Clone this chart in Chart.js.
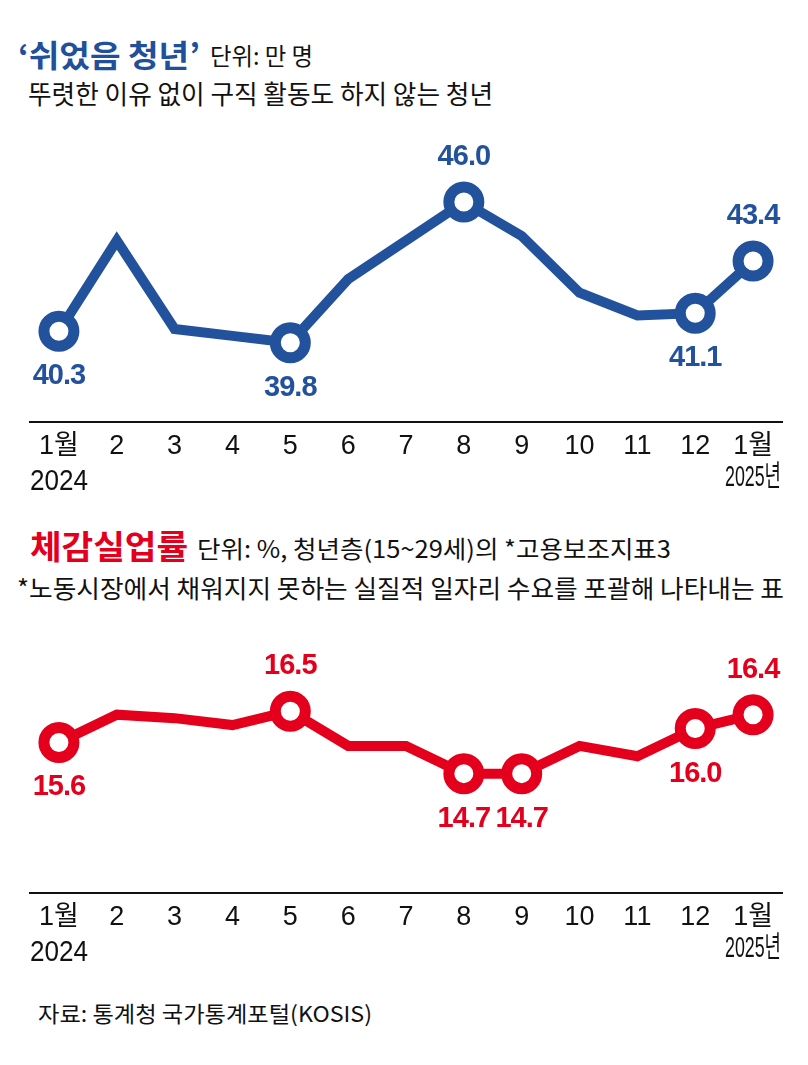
<!DOCTYPE html>
<html><head><meta charset="utf-8">
<script src="https://cdn.jsdelivr.net/npm/chart.js@4"></script>
<style>
html,body{margin:0;padding:0;background:#fff;}
body{width:808px;height:1065px;position:relative;overflow:hidden;font-family:"Noto Sans CJK KR","Noto Sans",sans-serif;color:#111;}
.t{position:absolute;white-space:nowrap;line-height:1;transform-origin:0 50%;}
canvas{position:absolute;left:0;}
</style></head><body>
<div class="t" data-w="182" style="left:18px;top:38px;font-size:31px;font-weight:700;color:#1f5099;">‘쉬었음 청년’</div>
<div class="t" data-w="103" style="left:210px;top:43px;font-size:24px;">단위: 만 명</div>
<div class="t" data-w="465" style="left:28px;top:80px;font-size:26px;">뚜렷한 이유 없이 구직 활동도 하지 않는 청년</div>
<div class="t" data-w="158" style="left:30px;top:529px;font-size:33px;font-weight:700;color:#e4001c;">체감실업률</div>
<div class="t" data-w="474" style="left:197px;top:536px;font-size:24px;">단위: %, 청년층(15~29세)의 *고용보조지표3</div>
<div class="t" data-w="767" style="left:17px;top:575px;font-size:25px;">*노동시장에서 채워지지 못하는 실질적 일자리 수요를 포괄해 나타내는 표</div>
<div class="t" data-w="334" style="left:38px;top:1001px;font-size:22px;">자료: 통계청 국가통계포털(KOSIS)</div>
<canvas id="c1" width="808" height="390" style="top:120px;width:808px;height:390px;"></canvas>
<canvas id="c2" width="808" height="360" style="top:620px;width:808px;height:360px;"></canvas>
<script>
// ---- data ----
const months = ['1월','2','3','4','5','6','7','8','9','10','11','12','1월'];
const yearStart = '2024';
const yearEnd = '2025년';
const restingYouth = [40.3, 44.3, 40.4, 40.1, 39.8, 42.6, 44.3, 46.0, 44.5, 42.0, 41.0, 41.1, 43.4];
const restingLabeled = [0, 4, 7, 11, 12];
const restingLabelSide = ['below', 'below', 'above', 'below', 'above'];
const perceivedUnemp = [15.6, 16.4, 16.3, 16.1, 16.5, 15.5, 15.5, 14.7, 14.7, 15.5, 15.2, 16.0, 16.4];
const perceivedLabeled = [0, 4, 7, 8, 11, 12];
const perceivedLabelSide = ['below', 'above', 'below', 'below', 'below', 'above'];

// fit header texts to their widths
document.querySelectorAll('.t').forEach(el => {
  const w = el.getBoundingClientRect().width;
  const target = parseFloat(el.dataset.w);
  if (w > 0) el.style.transform = 'scaleX(' + (target / w) + ')';
});

const BLUE = '#22529b';
const RED = '#e4001c';
const TICK_FONT = '"Liberation Sans", Arial, "Noto Sans CJK KR", sans-serif';

const valueLabels = {
  id: 'valueLabels',
  afterDatasetsDraw(chart, args, opts) {
    const ctx = chart.ctx;
    const meta = chart.getDatasetMeta(0);
    const ds = chart.data.datasets[0];
    ctx.save();
    ctx.font = 'bold 29px "Liberation Sans", Arial, sans-serif';
    if ('letterSpacing' in ctx) ctx.letterSpacing = '-1px';
    ctx.fillStyle = opts.color;
    ctx.textAlign = 'center';
    ctx.textBaseline = 'middle';
    opts.indices.forEach((idx, k) => {
      const pt = meta.data[idx];
      const dy = opts.sides[k] === 'above' ? -opts.offset : opts.offset;
      ctx.fillText(ds.data[idx].toFixed(1), pt.x, pt.y + dy);
    });
    ctx.restore();
  }
};

const yearLabels = {
  id: 'yearLabels',
  afterDraw(chart) {
    const xs = chart.scales.x;
    const ctx = chart.ctx;
    const b = chart.chartArea.bottom;
    ctx.save();
    ctx.fillStyle = '#111';
    ctx.textBaseline = 'middle';
    ctx.font = '29px ' + TICK_FONT;
    let w = ctx.measureText(yearStart).width;
    ctx.translate(xs.getPixelForTick(0), b + 60);
    ctx.scale(58 / w, 1);
    ctx.textAlign = 'center';
    ctx.fillText(yearStart, 0, 0);
    ctx.restore();
    ctx.save();
    ctx.fillStyle = '#111';
    ctx.textBaseline = 'middle';
    ctx.font = '29px ' + TICK_FONT;
    w = ctx.measureText(yearEnd).width;
    ctx.translate(chart.chartArea.right - 1, b + 56);
    ctx.scale(56 / w, 1);
    ctx.textAlign = 'right';
    ctx.fillText(yearEnd, 0, 0);
    ctx.restore();
  }
};

function makeChart(id, values, color, min, max, labeled, sides, padBottom) {
  return new Chart(document.getElementById(id), {
    type: 'line',
    data: {
      labels: months,
      datasets: [{
        data: values,
        borderColor: color,
        borderWidth: 10,
        borderJoinStyle: 'miter',
        tension: 0,
        pointRadius: values.map((_, i) => labeled.includes(i) ? 15 : 0),
        pointBorderWidth: 11,
        pointBackgroundColor: '#fff',
        pointBorderColor: color,
        clip: false
      }]
    },
    options: {
      responsive: false,
      animation: false,
      events: [],
      layout: { padding: { left: 30, right: 20, top: 20, bottom: padBottom } },
      plugins: {
        legend: { display: false },
        tooltip: { enabled: false },
        valueLabels: { color: color, indices: labeled, sides: sides, offset: 45 }
      },
      scales: {
        x: {
          offset: true,
          grid: { display: false, drawTicks: false },
          border: { display: true, color: '#111', width: 2 },
          ticks: { padding: 9, color: '#111', autoSkip: false, maxRotation: 0, font: { family: TICK_FONT, size: 27 } }
        },
        y: { display: false, min: min, max: max }
      }
    },
    plugins: [valueLabels, yearLabels]
  });
}

makeChart('c1', restingYouth, BLUE, 36.32, 48.47, restingLabeled, restingLabelSide, 38);
makeChart('c2', perceivedUnemp, RED, 11.27, 18.38, perceivedLabeled, perceivedLabelSide, 37);
</script>
</body></html>
